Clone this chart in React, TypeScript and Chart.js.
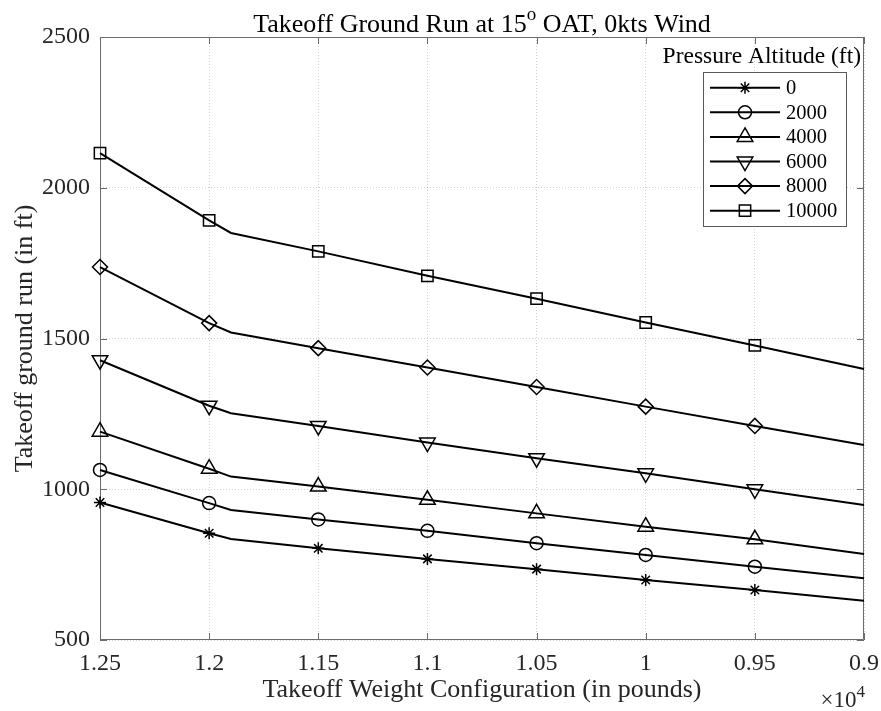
import React, { useEffect, useRef } from 'react';
import { Chart, registerables } from 'chart.js';
import { drawPoint } from 'chart.js/helpers';

Chart.register(...registerables);

// ---- data ----
const weights = [12500, 12000, 11900, 11500, 11000, 10500, 10000, 9500, 9000];
const alt0 = [956, 854, 835, 804, 769, 735, 699, 666, 630];
const alt2000 = [1064, 954, 931, 900, 862, 821, 782, 743, 705];
const alt4000 = [1191, 1068, 1042, 1009, 965, 920, 876, 834, 785];
const alt6000 = [1428, 1277, 1252, 1210, 1155, 1103, 1053, 1000, 948];
const alt8000 = [1737, 1551, 1520, 1468, 1404, 1339, 1274, 1210, 1147];
const alt10000 = [2115, 1892, 1850, 1789, 1708, 1632, 1553, 1477, 1399];
const hasMarker = [true, true, false, true, true, true, true, true, false];
const seriesNames = ['0', '2000', '4000', '6000', '8000', '10000'];
const seriesValues = [alt0, alt2000, alt4000, alt6000, alt8000, alt10000];

const xTicks = [12500, 12000, 11500, 11000, 10500, 10000, 9500, 9000];
const xTickLabels = ['1.25', '1.2', '1.15', '1.1', '1.05', '1', '0.95', '0.9'];
const yTicks = [500, 1000, 1500, 2000, 2500];

const titleParts = ['Takeoff Ground Run at 15', 'o', ' OAT, 0kts Wind'];
const xLabel = 'Takeoff Weight Configuration (in pounds)';
const yLabel = 'Takeoff ground run (in ft)';
const legendTitle = 'Pressure Altitude (ft)';

// ---- styles ----
const markerStyles = [
  { pointStyle: 'star', radius: 6, rotation: 0 },
  { pointStyle: 'circle', radius: 6.5, rotation: 0 },
  { pointStyle: 'triangle', radius: 9, rotation: 0 },
  { pointStyle: 'triangle', radius: 9, rotation: 180 },
  { pointStyle: 'rectRot', radius: 7.5, rotation: 0 },
  { pointStyle: 'rect', radius: 8, rotation: 0 },
];

const FONT = '"Liberation Serif", "Times New Roman", serif';
const AXIS_COLOR = '#6b6b6b';
const TEXT_COLOR = '#262626';

const decorPlugin = {
  id: 'decor',
  beforeDatasetsDraw(chart: any) {
    const ctx = chart.ctx;
    const { left, right, top, bottom } = chart.chartArea;
    const xs = chart.scales.x;
    const ys = chart.scales.y;
    ctx.save();
    ctx.strokeStyle = AXIS_COLOR;
    ctx.lineWidth = 1;
    ctx.beginPath();
    ctx.rect(Math.round(left) + 0.5, Math.round(top) + 0.5, Math.round(right - left) - 1, Math.round(bottom - top) - 1);
    ctx.stroke();
    const tl = 7;
    ctx.beginPath();
    xTicks.forEach((v) => {
      const px = Math.round(xs.getPixelForValue(v)) + 0.5;
      ctx.moveTo(px, bottom);
      ctx.lineTo(px, bottom - tl);
      ctx.moveTo(px, top);
      ctx.lineTo(px, top + tl);
    });
    yTicks.forEach((v) => {
      const py = Math.round(ys.getPixelForValue(v)) + 0.5;
      ctx.moveTo(left, py);
      ctx.lineTo(left + tl, py);
      ctx.moveTo(right, py);
      ctx.lineTo(right - tl, py);
    });
    ctx.stroke();
    ctx.restore();
  },
  afterDraw(chart: any) {
    const ctx = chart.ctx;
    const { left, right, top, bottom } = chart.chartArea;
    const cx = (left + right) / 2;
    ctx.save();
    // title
    ctx.fillStyle = '#000';
    ctx.textBaseline = 'alphabetic';
    ctx.textAlign = 'left';
    ctx.font = `26px ${FONT}`;
    const w1 = ctx.measureText(titleParts[0]).width;
    const w3 = ctx.measureText(titleParts[2]).width;
    ctx.font = `19px ${FONT}`;
    const w2 = ctx.measureText(titleParts[1]).width;
    let tx = cx - (w1 + w2 + w3) / 2;
    const tb = 32;
    ctx.font = `26px ${FONT}`;
    ctx.fillText(titleParts[0], tx, tb);
    tx += w1;
    ctx.font = `19px ${FONT}`;
    ctx.fillText(titleParts[1], tx, tb - 12);
    tx += w2;
    ctx.font = `26px ${FONT}`;
    ctx.fillText(titleParts[2], tx, tb);

    // x label
    ctx.fillStyle = TEXT_COLOR;
    ctx.textAlign = 'center';
    ctx.font = `26px ${FONT}`;
    ctx.fillText(xLabel, cx, 697);

    // y label
    ctx.save();
    ctx.translate(32, (top + bottom) / 2);
    ctx.rotate(-Math.PI / 2);
    ctx.fillText(yLabel, 0, 0);
    ctx.restore();

    // x10^4
    ctx.textAlign = 'left';
    ctx.font = `23px ${FONT}`;
    const expW = ctx.measureText('4').width * (17 / 23);
    const baseW = ctx.measureText('\u00d710').width;
    const ex = right - baseW - expW + 1;
    ctx.fillText('\u00d710', ex, 707);
    ctx.font = `17px ${FONT}`;
    ctx.fillText('4', ex + baseW, 697);

    // legend title
    ctx.fillStyle = '#000';
    ctx.textAlign = 'right';
    ctx.font = `23.5px ${FONT}`;
    ctx.fillText(legendTitle, 861, 63);

    // legend box
    const bx = 703, by = 72, bw = 143, bh = 154;
    ctx.fillStyle = '#fff';
    ctx.fillRect(bx, by, bw, bh);
    ctx.strokeStyle = '#5a5a5a';
    ctx.lineWidth = 1;
    ctx.strokeRect(bx + 0.5, by + 0.5, bw, bh);

    const rowY0 = 87.7, rowStep = 24.6;
    seriesNames.forEach((name, i) => {
      const y = rowY0 + i * rowStep;
      ctx.strokeStyle = '#000';
      ctx.lineWidth = 2;
      ctx.beginPath();
      ctx.moveTo(710, y);
      ctx.lineTo(780, y);
      ctx.stroke();
      const m = markerStyles[i];
      ctx.lineWidth = 1.5;
      ctx.strokeStyle = '#000';
      ctx.fillStyle = 'rgba(0,0,0,0)';
      drawPoint(ctx, { pointStyle: m.pointStyle, rotation: m.rotation, radius: m.radius, borderWidth: 1.5 }, 745, y);
      ctx.fillStyle = '#000';
      ctx.textAlign = 'left';
      ctx.textBaseline = 'middle';
      ctx.font = `20.5px ${FONT}`;
      ctx.fillText(name, 786, y + 1);
    });
    ctx.restore();
  },
};

export default function App() {
  const canvasRef = useRef<HTMLCanvasElement | null>(null);

  useEffect(() => {
    const canvas = canvasRef.current;
    if (!canvas) return;
    const datasets = seriesNames.map((name, i) => {
      const m = markerStyles[i];
      return {
        label: name,
        data: weights.map((w, j) => ({ x: w, y: seriesValues[i][j] })),
        borderColor: '#000',
        borderWidth: 2,
        backgroundColor: 'rgba(0,0,0,0)',
        pointStyle: m.pointStyle,
        pointRotation: m.rotation,
        pointRadius: hasMarker.map((h) => (h ? m.radius : 0)),
        pointHoverRadius: hasMarker.map((h) => (h ? m.radius : 0)),
        pointBorderColor: '#000',
        pointBackgroundColor: 'rgba(0,0,0,0)',
        pointBorderWidth: 1.5,
        tension: 0,
        fill: false,
        clip: false,
      };
    });

    const chart = new Chart(canvas, {
      type: 'line',
      data: { datasets },
      plugins: [decorPlugin],
      options: {
        animation: false,
        responsive: false,
        devicePixelRatio: 1,
        events: [],
        layout: { padding: { left: 0, top: 37, right: 17, bottom: 0 } },
        plugins: {
          legend: { display: false },
          title: { display: false },
          tooltip: { enabled: false },
        },
        scales: {
          x: {
            type: 'linear',
            reverse: true,
            min: 9000,
            max: 12500,
            afterBuildTicks: (s: any) => {
              s.ticks = xTicks.map((v) => ({ value: v }));
            },
            afterFit: (s: any) => {
              s.height = 71;
              s.paddingLeft = 0;
              s.paddingRight = 0;
            },
            ticks: {
              autoSkip: false,
              maxRotation: 0,
              padding: 9,
              color: TEXT_COLOR,
              font: { family: FONT, size: 24 },
              callback: (v: any) => {
                const i = xTicks.indexOf(Number(v));
                return i >= 0 ? xTickLabels[i] : '';
              },
            },
            grid: { color: 'rgba(0,0,0,0.18)', lineWidth: 1, drawTicks: false },
            border: { display: false, dash: [1, 2] },
          },
          y: {
            type: 'linear',
            min: 500,
            max: 2500,
            afterBuildTicks: (s: any) => {
              s.ticks = yTicks.map((v) => ({ value: v }));
            },
            afterFit: (s: any) => {
              s.width = 100;
              s.paddingTop = 0;
              s.paddingBottom = 0;
            },
            ticks: {
              padding: 10,
              color: TEXT_COLOR,
              font: { family: FONT, size: 24 },
              callback: (v: any) => String(v),
            },
            grid: { color: 'rgba(0,0,0,0.18)', lineWidth: 1, drawTicks: false },
            border: { display: false, dash: [1, 2] },
          },
        },
      },
    } as any);
    return () => chart.destroy();
  }, []);

  return (
    <div style={{ position: 'absolute', left: 0, top: 0, width: 881, height: 711, background: '#fff' }}>
      <canvas ref={canvasRef} width={881} height={711} style={{ width: 881, height: 711, display: 'block' }} />
    </div>
  );
}
